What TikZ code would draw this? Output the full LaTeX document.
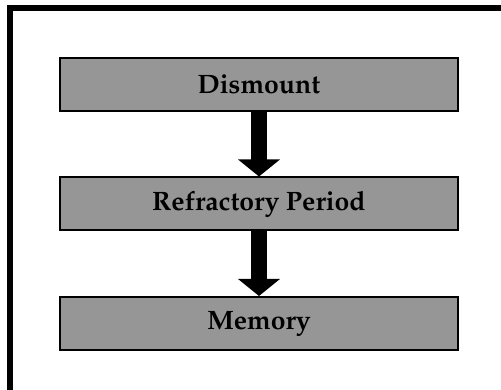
\documentclass[tikz,border=0pt]{standalone}
\usepackage[T1]{fontenc}
\usetikzlibrary{arrows.meta}
\definecolor{boxgray}{RGB}{150,150,150}
\tikzset{
  stepbox/.style={draw=black, line width=2pt, fill=boxgray, minimum width=398pt, minimum height=53pt, inner sep=0pt,
    font=\fontencoding{T1}\fontfamily{ppl}\fontseries{b}\fontsize{26.6}{30}\selectfont},
  bigarrow/.style={line width=16pt, -{Triangle[width=41pt,length=17pt]}}
}
\begin{document}
\begin{tikzpicture}[x=1pt,y=-1pt]
\useasboundingbox (0,0) rectangle (501,390);
\clip (0,0) rectangle (501,390);
\draw[line width=6pt] (10,8.5) rectangle (530,420);
\node[stepbox] (d) at (259,84.5) {Dismount};
\node[stepbox] (r) at (259,204) {Refractory Period};
\node[stepbox] (m) at (259,323.5) {Memory};
\draw[bigarrow] (d.south) -- (r.north);
\draw[bigarrow] (r.south) -- (m.north);
\end{tikzpicture}
\end{document}
